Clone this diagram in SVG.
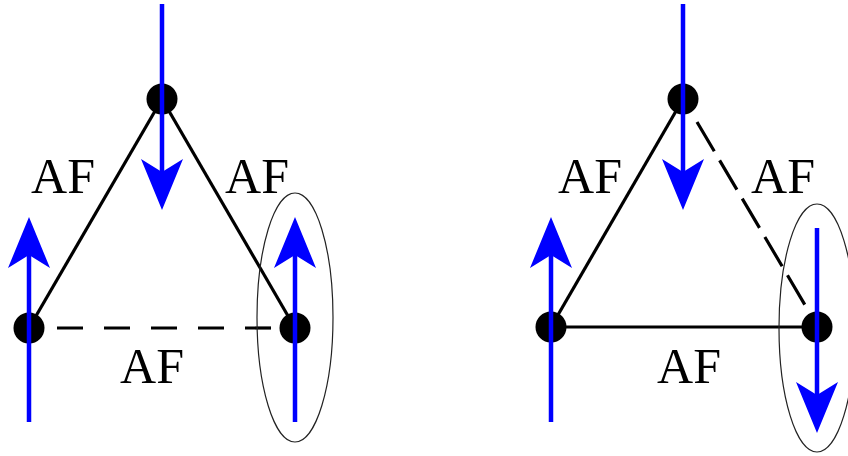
<svg xmlns="http://www.w3.org/2000/svg" width="848" height="456" viewBox="0 0 848 456">
<style>
.edge{stroke:#000;stroke-width:3.2;fill:none}
.dash{stroke-dasharray:26 21}
.ddash{stroke-dasharray:34 10.5}
.node{fill:#000}
.spin{stroke:#0000ff;stroke-width:4.5;fill:none}
.head{fill:#0000ff}
.ring{fill:none;stroke:#222;stroke-width:1.2}
.lbl{font-family:"Liberation Serif","DejaVu Serif",serif;font-size:50px;fill:#000;text-anchor:middle}
</style>
<rect width="848" height="456" fill="#fff"/>
<g id="connectors">
<line class="edge" x1="162" y1="99" x2="29" y2="328"/>
<line class="edge" x1="162" y1="99" x2="295" y2="328"/>
<line class="edge dash" x1="57" y1="328" x2="280" y2="328"/>
<line class="edge" x1="683" y1="99" x2="551" y2="327"/>
<line class="edge" x1="551" y1="327" x2="817" y2="327"/>
<line class="edge ddash" x1="697" y1="122" x2="805" y2="305"/>
</g>
<g id="left-triangle">
<g id="L-top"><circle class="node" cx="162" cy="99" r="15.5"/></g>
<g id="L-left"><circle class="node" cx="29" cy="328" r="15.5"/></g>
<g id="L-right"><circle class="node" cx="295" cy="328" r="15.5"/></g>
<g id="L-ring"><ellipse class="ring" cx="295" cy="317.5" rx="38" ry="124.5"/></g>
<g id="L-spin-top"><line class="spin" x1="162" y1="4" x2="162" y2="175"/><path class="head" d="M141,159 L162,172 L183,159 L162,210 Z"/></g>
<g id="L-spin-left"><line class="spin" x1="29" y1="422" x2="29" y2="252"/><path class="head" d="M8,268 L29,255 L50,268 L29,217 Z"/></g>
<g id="L-spin-right"><line class="spin" x1="295" y1="422" x2="295" y2="252"/><path class="head" d="M274,268 L295,255 L316,268 L295,217 Z"/></g>
<text class="lbl" x="63" y="193">AF</text>
<text class="lbl" x="257" y="193">AF</text>
<text class="lbl" x="152" y="383">AF</text>
</g>
<g id="right-triangle">
<g id="R-top"><circle class="node" cx="683" cy="99" r="15.5"/></g>
<g id="R-left"><circle class="node" cx="551" cy="327" r="15.5"/></g>
<g id="R-right"><circle class="node" cx="817" cy="327" r="15.5"/></g>
<g id="R-ring"><ellipse class="ring" cx="817" cy="328" rx="38" ry="124"/></g>
<g id="R-spin-top"><line class="spin" x1="683" y1="4" x2="683" y2="175"/><path class="head" d="M662,159 L683,172 L704,159 L683,210 Z"/></g>
<g id="R-spin-left"><line class="spin" x1="551" y1="422" x2="551" y2="252"/><path class="head" d="M530,268 L551,255 L572,268 L551,217 Z"/></g>
<g id="R-spin-right"><line class="spin" x1="817" y1="228" x2="817" y2="398"/><path class="head" d="M796,382 L817,395 L838,382 L817,433 Z"/></g>
<text class="lbl" x="590" y="193">AF</text>
<text class="lbl" x="783" y="193">AF</text>
<text class="lbl" x="689" y="383">AF</text>
</g>
</svg>
